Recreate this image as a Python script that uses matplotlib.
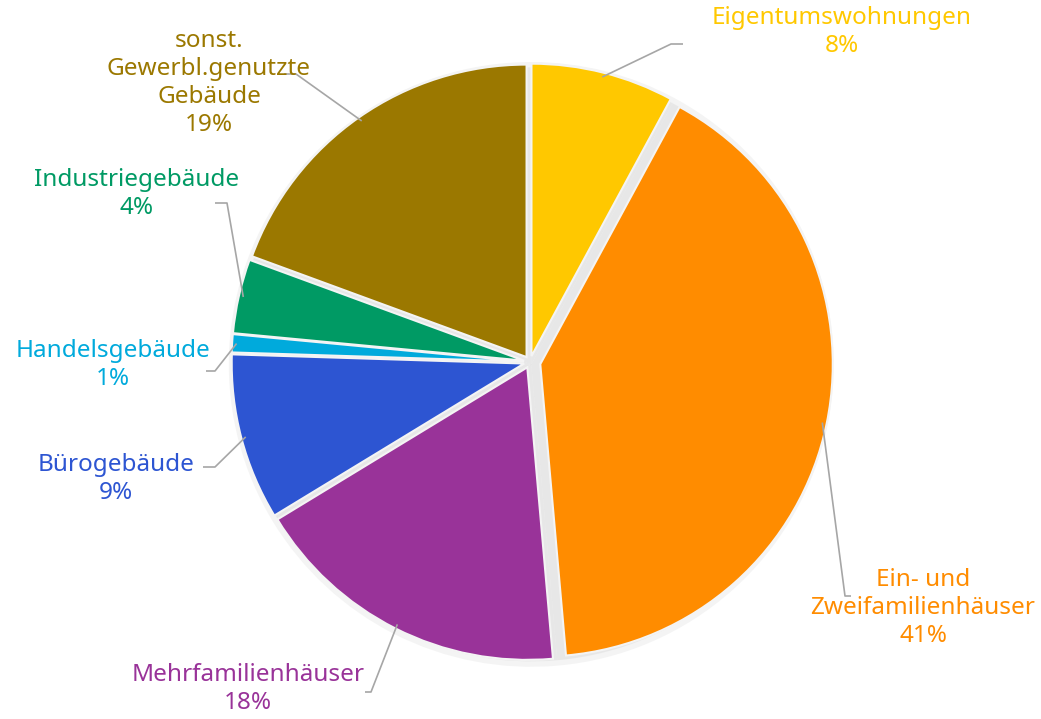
import numpy as np
import matplotlib.pyplot as plt

categories = ["Eigentumswohnungen", "Ein- und\nZweifamilienhäuser", "Mehrfamilienhäuser",
              "Bürogebäude", "Handelsgebäude", "Industriegebäude",
              "sonst.\nGewerbl.genutzte\nGebäude"]
shares = [7.9, 40.7, 17.7, 9.2, 1.0, 4.1, 19.4]
colors = ["#FFC800", "#FF8C00", "#993399", "#2D55D2", "#00AADC", "#009A64", "#9B7800"]

# label layout (data coords): text centre, elbow point, line end
label_pos = [(1.04, 1.10), (1.31, -0.82), (-0.94, -1.09), (-1.38, -0.39),
             (-1.39, -0.01), (-1.31, 0.56), (-1.07, 0.93)]
elbows = [(0.47, 1.06), (1.05, -0.78), (-0.53, -1.10), (-1.05, -0.35),
          (-1.05, -0.03), (-1.01, 0.53), (-0.78, 0.96)]
ends = [(0.51, 1.06), (1.07, -0.78), (-0.55, -1.10), (-1.09, -0.35),
        (-1.08, -0.03), (-1.05, 0.53), (-0.82, 0.96)]

plt.rcParams['font.family'] = ['Noto Sans', 'DejaVu Sans']

fig = plt.figure(figsize=(10.41, 7.19), dpi=100)
ax = fig.add_axes([0, 0, 1, 1])

# soft shadow under the pie
for r, a in [(1.008, 0.3), (0.99, 0.5)]:
    ax.pie(shares, colors=["#DCDCDC"] * len(shares), startangle=90, counterclock=False,
           radius=r, center=(0.004, -0.008),
           wedgeprops=dict(linewidth=0, alpha=a))

explode = [0.02, 0.035, 0.02, 0.02, 0.02, 0.02, 0.02]
wedges, _ = ax.pie(shares, colors=colors, startangle=90, counterclock=False,
                   explode=explode, radius=0.975,
                   wedgeprops=dict(edgecolor="#F4F4F4", linewidth=1.5))

for w, s, lab, col, tp, el, en in zip(wedges, shares, categories, colors, label_pos, elbows, ends):
    ang = np.deg2rad((w.theta1 + w.theta2) / 2)
    cx, cy = w.center
    sx, sy = cx + 0.96 * np.cos(ang), cy + 0.96 * np.sin(ang)
    ax.plot([sx, el[0], en[0]], [sy, el[1], en[1]], color="#A6A6A6", lw=1.2,
            solid_capstyle="butt")
    ax.text(tp[0], tp[1], f"{lab}\n{round(s)}%", color=col, fontsize=17.5,
            ha="center", va="center", linespacing=1.22)

# pixel mapping: centre (530,362), radius 300 px
ax.set_xlim(-530 / 300, (1041 - 530) / 300)
ax.set_ylim(-(719 - 362) / 300, 362 / 300)
ax.set_aspect("equal")
ax.axis("off")

fig.savefig("out.png", dpi=100)
